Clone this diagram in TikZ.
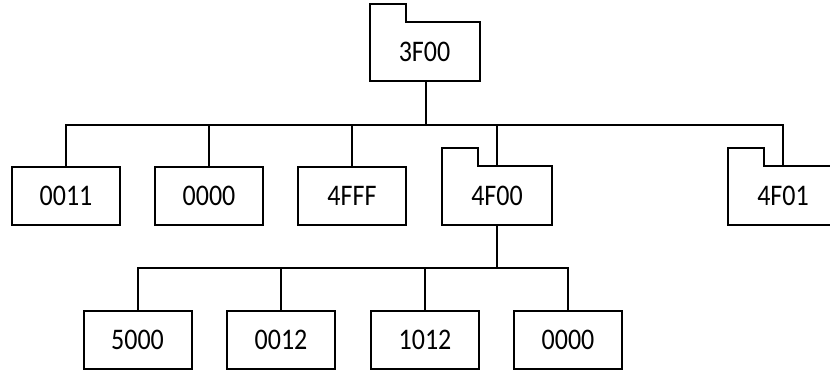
\documentclass[tikz,border=0pt]{standalone}
\usepackage{graphicx}
\usepackage{fontspec}
\setmainfont{Carlito}
% labels are set slightly tall and narrow
\newcommand{\lbl}[1]{\scalebox{1}[1.15]{#1}}
\begin{document}
\begin{tikzpicture}[x=1pt,y=-1pt,line width=2pt,
  box/.style={draw,rectangle,inner sep=0pt,minimum width=108pt,minimum height=58pt,font=\fontsize{26}{30}\selectfont},
  folderbody/.style={rectangle,inner sep=0pt,minimum width=108pt,minimum height=57pt,font=\fontsize{26}{30}\selectfont},
  wire/.style={draw,line width=2pt}]
\useasboundingbox (0,0) rectangle (830,371);
\clip (0,0) rectangle (830,371);

% folder outline: tab on the upper left, body below
\newcommand{\foldertab}[1]{%
  \draw (#1.south west) -- ([yshift=18pt]#1.north west) -- ++(36,0) -- ++(0,18) -- (#1.north east) -- (#1.south east) -- cycle;}

% root directory
\node[folderbody] (r) at (424.5,52) {\lbl{3F00}};
\foldertab{r}

% first level
\node[box] (a1) at (66,196) {\lbl{0011}};
\node[box] (a2) at (209,196) {\lbl{0000}};
\node[box] (a3) at (352,196) {\lbl{4FFF}};
\node[folderbody] (a4) at (497,196) {\lbl{4F00}};
\node[folderbody] (a5) at (783,196) {\lbl{4F01}};
\foldertab{a4}
\foldertab{a5}

% second level
\node[box] (b1) at (137.5,340) {\lbl{5000}};
\node[box] (b2) at (281,340) {\lbl{0012}};
\node[box] (b3) at (425,340) {\lbl{1012}};
\node[box] (b4) at (568,340) {\lbl{0000}};

% connectors from 3F00
\coordinate (busA) at (426,125);
\draw[wire] (r.south -| busA) -- (busA);
\draw[wire] (a1.north) -- (a1.north |- busA) -- (a5.north |- busA) -- (a5.north);
\foreach \n in {a2,a3,a4} \draw[wire] (\n.north) -- (\n.north |- busA);

% connectors from 4F00
\coordinate (busB) at (497,268);
\draw[wire] (a4.south) -- (busB);
\draw[wire] (b1.north) -- (b1.north |- busB) -- (b4.north |- busB) -- (b4.north);
\foreach \n in {b2,b3} \draw[wire] (\n.north) -- (\n.north |- busB);
\end{tikzpicture}
\end{document}
